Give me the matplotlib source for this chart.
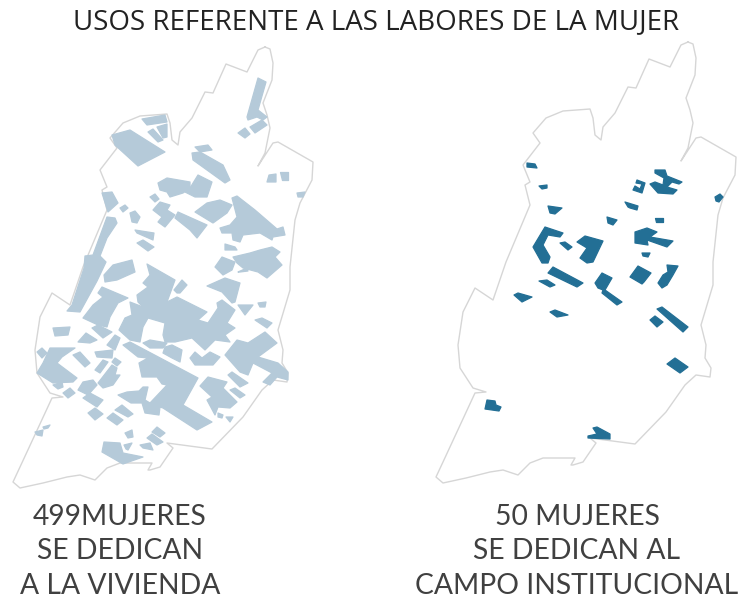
"""
Usos referente a las labores de la mujer: two block maps of the same barrio.
Coordinates are read off the reference in image pixels (y goes down).
"""

import matplotlib
matplotlib.use("Agg")
import matplotlib.pyplot as plt

TITLE = "USOS REFERENTE A LAS LABORES DE LA MUJER"
LEFT_LABEL = ["499MUJERES", "SE DEDICAN", "A LA VIVIENDA"]
RIGHT_LABEL = ["50 MUJERES", "SE DEDICAN AL", "CAMPO INSTITUCIONAL"]

# barrio boundary, left map
OUTLINE = [
    (265, 47), (270, 49), (273, 63), (272, 80), (263, 103), (267, 115), (270, 128),
    (265, 153), (258, 166), (273, 143), (278, 142), (313, 162), (312, 180), (300, 203),
    (295, 220), (290, 267), (290, 290), (278, 330), (283, 350), (282, 363), (288, 373),
    (287, 382), (273, 380), (262, 390), (243, 417), (212, 449), (167, 443), (173, 448),
    (160, 467), (150, 470), (148, 470), (152, 463), (120, 463), (107, 468), (95, 480),
    (80, 475), (67, 477), (43, 483), (20, 488), (13, 482), (20, 467), (52, 398),
    (63, 397), (50, 393), (37, 373), (35, 350), (40, 317), (52, 293), (70, 305),
    (83, 267), (107, 210), (102, 190), (107, 187), (100, 170), (117, 148), (110, 138),
    (123, 123), (140, 116), (167, 114), (170, 123), (172, 140), (178, 145), (180, 132),
    (192, 118), (205, 92), (213, 93), (226, 64), (247, 72), (258, 50),
]
RIGHT_OFFSET = (423, -5)

# blocks with housing use (499 mujeres)
VIVIENDA_NORTH = [
    [(112, 135), (130, 130), (165, 152), (138, 166), (115, 145)],
    [(142, 119), (165, 115), (167, 122), (147, 125)],
    [(148, 132), (153, 129), (163, 140), (158, 142)],
    [(157, 127), (167, 124), (167, 137), (163, 138)],
    [(102, 193), (112, 192), (118, 203), (108, 212)],
    [(120, 208), (125, 205), (128, 208), (123, 212)],
    [(130, 213), (135, 211), (140, 217), (137, 223), (132, 222)],
    [(135, 230), (154, 233), (153, 240), (137, 233)],
    [(137, 243), (143, 240), (154, 247), (148, 251)],
    [(107, 217), (115, 218), (117, 223), (107, 238), (100, 256), (106, 262), (97, 281),
     (80, 312), (67, 311), (72, 305), (84, 268), (85, 256), (93, 255)],
    [(113, 265), (132, 260), (135, 272), (117, 280), (105, 282), (104, 275)],
    [(158, 183), (167, 178), (190, 182), (190, 188), (183, 193), (170, 197), (167, 192), (160, 190)],
    [(190, 188), (198, 175), (212, 182), (207, 197), (195, 197), (185, 192)],
    [(192, 153), (200, 152), (223, 165), (230, 180), (225, 183), (200, 165), (193, 160)],
    [(195, 147), (208, 145), (212, 150), (200, 152)],
    [(258, 78), (266, 82), (258, 110), (267, 117), (263, 120), (257, 117), (248, 120), (247, 117)],
    [(250, 127), (262, 120), (267, 125), (255, 133)],
    [(238, 133), (245, 128), (250, 134), (245, 138)],
    [(269, 175), (276, 174), (276, 182), (267, 182)],
    [(280, 172), (288, 172), (288, 180), (282, 180)],
    [(297, 193), (305, 192), (303, 197), (298, 197)],
    [(150, 197), (155, 194), (159, 199), (155, 202)],
    [(160, 202), (170, 205), (167, 210), (175, 215), (165, 227), (158, 222), (162, 217), (153, 210)],
    [(178, 212), (207, 225), (197, 238), (190, 230), (175, 218)],
    [(195, 212), (207, 203), (220, 200), (232, 205), (227, 213), (213, 223)],
    [(232, 198), (237, 196), (255, 210), (277, 229), (283, 227), (285, 235), (273, 237), (272, 240),
     (260, 233), (243, 235), (240, 242), (233, 240), (232, 233), (222, 233), (220, 228), (230, 225), (237, 217)],
    [(225, 244), (235, 247), (237, 250), (225, 250)],
    [(233, 257), (250, 253), (260, 250), (272, 247), (280, 252), (275, 257), (282, 265), (267, 278),
     (258, 272), (243, 268), (237, 263)],
    [(215, 267), (222, 257), (235, 262), (232, 270), (223, 275)],
    [(238, 272), (247, 268), (248, 271), (240, 272)],
]

VIVIENDA_CENTRE = [
    [(147, 264), (175, 280), (167, 302), (177, 297), (207, 312), (198, 320), (208, 323), (218, 308),
     (217, 303), (222, 300), (235, 310), (227, 323), (235, 328), (225, 335), (230, 342), (215, 340),
     (205, 350), (192, 338), (175, 342), (165, 342), (163, 335), (165, 323), (148, 318), (143, 307),
     (138, 302), (137, 295), (148, 287), (143, 283), (150, 275)],
    [(102, 287), (128, 298), (118, 303), (110, 317), (107, 327), (98, 325), (83, 318), (93, 305),
     (103, 297), (98, 293)],
    [(130, 302), (143, 307), (148, 318), (143, 327), (140, 342), (130, 340), (119, 330), (125, 318), (132, 315)],
    [(143, 343), (150, 340), (167, 343), (163, 348), (150, 348)],
    [(165, 347), (172, 345), (182, 350), (180, 362), (172, 358), (163, 353)],
    [(123, 345), (130, 342), (198, 378), (183, 405), (212, 422), (197, 430), (163, 408), (160, 407),
     (159, 415), (145, 413), (142, 403), (131, 403), (118, 395), (127, 392), (139, 391), (143, 387),
     (148, 387), (145, 400), (150, 403), (167, 385), (162, 384), (157, 377), (142, 377), (139, 363),
     (148, 358), (138, 357)],
    [(174, 290), (182, 280), (187, 285), (180, 293), (177, 293)],
    [(207, 286), (225, 278), (240, 283), (235, 302), (232, 303), (222, 292)],
    [(238, 305), (253, 305), (245, 315)],
    [(258, 303), (266, 302), (265, 307), (260, 307)],
    [(255, 320), (262, 318), (272, 323), (267, 328)],
    [(265, 332), (277, 343), (258, 357), (278, 363), (288, 372), (288, 380), (277, 377), (270, 385),
     (263, 382), (272, 373), (253, 363), (248, 375), (240, 372), (225, 355), (237, 340), (248, 343)],
    [(190, 358), (195, 352), (202, 358), (210, 352), (220, 357), (213, 365), (195, 365)],
    [(200, 386), (208, 377), (227, 382), (223, 388), (237, 402), (230, 408), (218, 407), (215, 415),
     (207, 400), (212, 397)],
    [(228, 375), (232, 372), (248, 383), (240, 387)],
    [(230, 390), (235, 388), (245, 395), (240, 398)],
    [(218, 413), (223, 415), (222, 418), (218, 417)],
    [(226, 417), (233, 417), (230, 422)],
]

VIVIENDA_SOUTH = [
    [(53, 328), (70, 327), (68, 335), (55, 336)],
    [(78, 342), (86, 333), (97, 340), (90, 343)],
    [(92, 328), (98, 325), (112, 332), (103, 338)],
    [(37, 352), (42, 348), (47, 353), (42, 358)],
    [(50, 348), (75, 348), (62, 357), (57, 363), (77, 378), (73, 382), (53, 383), (37, 373), (43, 363)],
    [(53, 385), (62, 382), (63, 387), (58, 389)],
    [(63, 393), (70, 388), (75, 393), (68, 398)],
    [(73, 355), (80, 352), (90, 363), (85, 367)],
    [(95, 352), (113, 350), (112, 358), (97, 357)],
    [(107, 345), (115, 335), (120, 338), (115, 350)],
    [(95, 370), (103, 360), (108, 362), (100, 373)],
    [(112, 362), (115, 358), (121, 362), (117, 366)],
    [(98, 383), (112, 365), (117, 368), (115, 375), (120, 375), (113, 385), (103, 388)],
    [(78, 390), (83, 382), (93, 380), (97, 385), (88, 395)],
    [(83, 398), (90, 393), (103, 400), (97, 407)],
    [(88, 413), (95, 408), (103, 414), (95, 420)],
    [(107, 418), (113, 413), (123, 420), (117, 425)],
    [(115, 410), (122, 405), (133, 414), (128, 417)],
    [(125, 433), (132, 430), (133, 437), (128, 438)],
    [(152, 432), (157, 427), (165, 433), (160, 437)],
    [(147, 438), (152, 434), (163, 442), (157, 445)],
    [(140, 445), (150, 443), (153, 450), (143, 448)],
    [(124, 445), (132, 443), (128, 450), (126, 449)],
    [(104, 442), (120, 443), (123, 453), (143, 457), (123, 464), (102, 452)],
    [(35, 432), (43, 430), (42, 436), (37, 435)],
    [(43, 427), (50, 425), (48, 428), (44, 429)],
]

# blocks with institutional use (50 mujeres)
INSTITUCIONAL = [
    [(527, 163), (535, 164), (537, 168), (527, 167)],
    [(539, 186), (547, 185), (547, 188), (542, 189)],
    [(548, 206), (562, 208), (555, 214), (550, 213)],
    [(545, 227), (563, 233), (560, 237), (548, 235), (543, 245), (550, 257), (548, 263), (542, 263), (533, 247)],
    [(560, 243), (565, 242), (572, 247), (568, 250)],
    [(577, 242), (585, 236), (603, 241), (593, 262), (587, 263), (580, 258), (587, 248)],
    [(607, 217), (617, 220), (613, 225), (608, 223)],
    [(625, 202), (638, 206), (637, 210), (630, 208), (628, 207)],
    [(637, 180), (645, 183), (642, 193), (633, 190), (635, 186), (640, 189), (642, 184), (636, 183)],
    [(655, 170), (665, 170), (667, 176), (682, 182), (679, 184), (672, 182), (667, 187), (677, 190),
     (673, 194), (658, 193), (650, 184), (655, 182), (663, 185), (664, 178), (655, 173)],
    [(655, 218), (663, 218), (663, 222), (656, 222)],
    [(715, 197), (720, 194), (723, 197), (719, 202), (716, 201)],
    [(635, 232), (647, 228), (657, 232), (650, 237), (673, 241), (667, 247), (647, 240), (648, 245), (635, 243)],
    [(642, 253), (650, 253), (648, 257), (643, 256)],
    [(553, 267), (583, 283), (577, 287), (548, 273)],
    [(539, 281), (547, 280), (555, 285), (550, 287)],
    [(514, 295), (518, 293), (532, 297), (522, 302)],
    [(550, 312), (555, 310), (568, 315), (557, 317)],
    [(595, 283), (602, 273), (612, 278), (605, 290), (622, 302), (617, 305), (602, 293), (603, 290), (598, 288)],
    [(630, 277), (638, 266), (651, 273), (644, 282), (642, 284)],
    [(667, 265), (678, 266), (673, 275), (667, 285), (662, 288), (658, 283), (663, 275), (668, 272)],
    [(657, 309), (662, 307), (688, 327), (683, 332)],
    [(650, 320), (655, 316), (663, 322), (657, 327)],
    [(667, 364), (675, 358), (688, 367), (680, 373)],
    [(487, 400), (495, 401), (496, 405), (501, 407), (499, 411), (485, 409)],
    [(593, 428), (597, 427), (610, 434), (610, 439), (588, 438), (588, 436), (597, 434)],
]

LIGHT_BLUE = "#b5cad9"
DARK_BLUE = "#236f95"
LINE_GREY = "#d6d6d6"


def draw_outline(ax, dx=0, dy=0):
    xs = [p[0] + dx for p in OUTLINE] + [OUTLINE[0][0] + dx]
    ys = [p[1] + dy for p in OUTLINE] + [OUTLINE[0][1] + dy]
    ax.plot(xs, ys, color=LINE_GREY, lw=1.0, solid_joinstyle="round", zorder=1)


def draw_blocks(ax, blocks, color):
    for block in blocks:
        xs = [p[0] for p in block]
        ys = [p[1] for p in block]
        ax.fill(xs, ys, color=color, lw=0.9, joinstyle="round", zorder=2)


def draw_label(ax, lines, x):
    for line, y in zip(lines, [517, 551, 586]):
        ax.text(x, y, line, ha="center", va="center", fontsize=20.3,
                family="Lato", color="#404040")


def main():
    fig = plt.figure(figsize=(7.39, 6.0), dpi=100)
    ax = fig.add_axes([0, 0, 1, 1])
    ax.set_xlim(0, 739)
    ax.set_ylim(600, 0)
    ax.axis("off")

    draw_outline(ax)
    draw_outline(ax, RIGHT_OFFSET[0], RIGHT_OFFSET[1])

    draw_blocks(ax, VIVIENDA_NORTH + VIVIENDA_CENTRE + VIVIENDA_SOUTH, LIGHT_BLUE)
    draw_blocks(ax, INSTITUCIONAL, DARK_BLUE)

    ax.text(376, 22, TITLE, ha="center", va="center", fontsize=20,
            family="Open Sans", color="#222222")
    draw_label(ax, LEFT_LABEL, 120)
    draw_label(ax, RIGHT_LABEL, 577)

    fig.savefig("out.png", dpi=100)
    plt.close(fig)


if __name__ == "__main__":
    main()
